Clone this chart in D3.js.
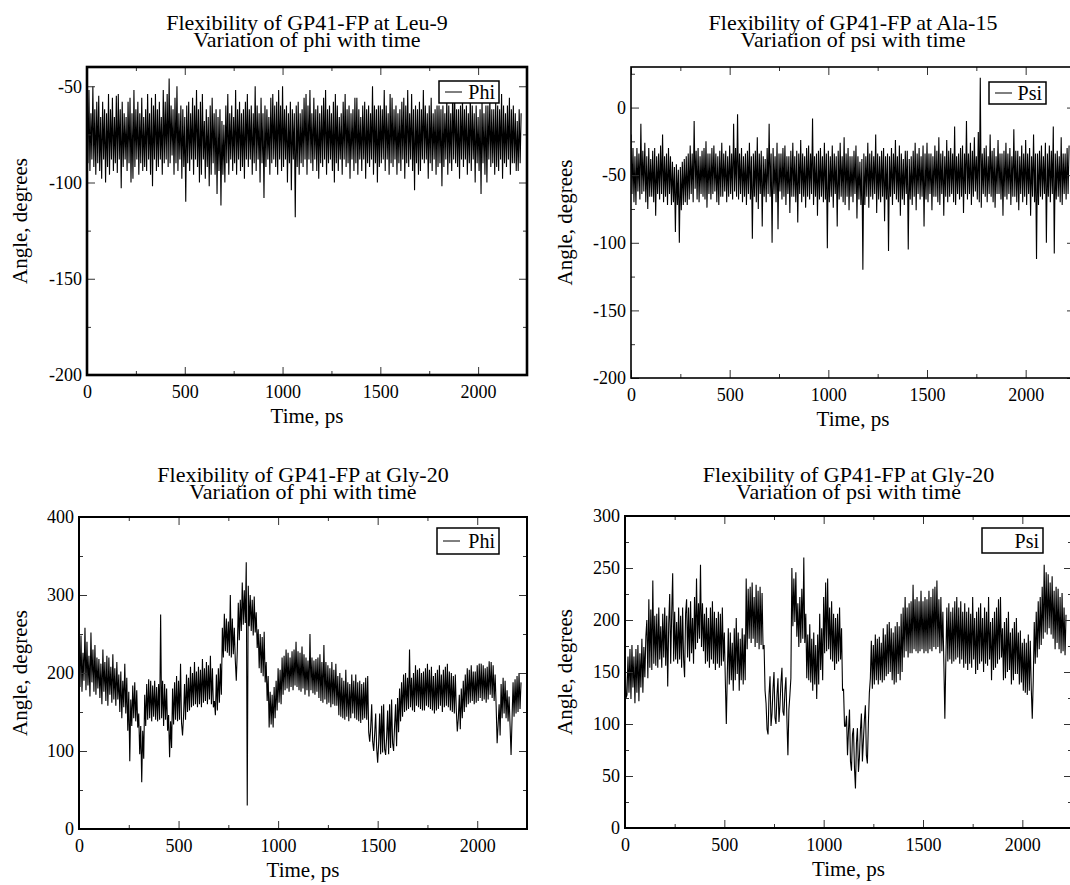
<!DOCTYPE html>
<html>
<head>
<meta charset="utf-8">
<script src="https://cdn.jsdelivr.net/npm/d3@7"></script>
<style>
  body { margin: 0; background: #fff; }
  svg { display: block; }
</style>
</head>
<body>
<svg id="chart" width="1070" height="885"></svg>
<script>
const FONT = '"Liberation Serif", "Times New Roman", Times, serif';

// trajectory frames are stored every 5 ps, starting at 0 ps
const timeStep = 5;
const xTicks = [0, 500, 1000, 1500, 2000];
const xMinorTicks = [250, 750, 1250, 1750];

const leu9Phi = [
  -60,-90,-52,-94,-64,-88,-50,-92,-62,-96,-58,-90,-55,-94,-66,-98,-58,-88,-62,-100,
  -64,-92,-54,-96,-62,-88,-56,-94,-66,-90,-55,-95,-54,-88,-62,-103,-58,-92,-64,-88,
  -66,-94,-58,-90,-56,-100,-64,-98,-52,-92,-62,-88,-58,-96,-64,-90,-56,-94,-66,-92,
  -62,-94,-54,-88,-64,-96,-56,-102,-60,-88,-54,-94,-62,-92,-58,-88,-66,-96,-52,-90,
  -58,-88,-54,-92,-46,-90,-60,-86,-62,-96,-56,-90,-50,-94,-64,-88,-60,-98,-62,-92,
  -66,-110,-60,-90,-58,-94,-64,-88,-56,-96,-60,-88,-52,-92,-62,-100,-58,-96,-54,-88,
  -68,-98,-62,-92,-66,-102,-60,-96,-56,-90,-64,-96,-62,-106,-66,-94,-62,-112,-68,-96,
  -70,-100,-60,-90,-54,-96,-64,-88,-60,-94,-66,-90,-52,-96,-62,-88,-58,-94,-64,-92,
  -62,-98,-58,-88,-54,-92,-62,-88,-60,-96,-64,-90,-50,-94,-60,-88,-64,-100,-56,-90,
  -64,-108,-60,-92,-62,-88,-66,-96,-56,-90,-54,-88,-60,-92,-58,-96,-52,-88,-60,-94,
  -50,-92,-62,-88,-60,-100,-64,-90,-58,-104,-62,-88,-64,-118,-60,-92,-58,-96,-64,-90,
  -62,-92,-56,-88,-54,-96,-60,-88,-52,-90,-64,-94,-56,-88,-62,-94,-60,-98,-64,-90,
  -60,-92,-56,-88,-52,-96,-62,-90,-60,-88,-64,-94,-58,-100,-54,-90,-60,-94,-66,-88,
  -64,-96,-58,-88,-54,-92,-62,-90,-60,-98,-64,-88,-62,-94,-56,-90,-56,-96,-62,-88,
  -66,-94,-60,-88,-58,-98,-62,-90,-60,-92,-64,-88,-50,-96,-60,-90,-62,-100,-60,-92,
  -60,-90,-62,-88,-52,-94,-60,-88,-64,-96,-54,-90,-56,-92,-62,-88,-60,-96,-64,-90,
  -62,-94,-58,-88,-56,-98,-60,-90,-52,-92,-64,-88,-54,-94,-62,-104,-60,-90,-62,-96,
  -58,-94,-62,-88,-52,-90,-60,-88,-64,-98,-60,-90,-56,-94,-64,-88,-62,-96,-60,-92,
  -60,-90,-62,-102,-60,-92,-64,-88,-56,-96,-60,-90,-64,-94,-52,-88,-54,-90,-62,-92,
  -62,-98,-60,-88,-56,-92,-62,-88,-60,-96,-64,-90,-54,-94,-60,-88,-64,-100,-60,-90,
  -66,-94,-62,-106,-58,-90,-64,-96,-60,-100,-60,-88,-56,-92,-62,-90,-62,-96,-58,-92,
  -60,-94,-62,-88,-54,-98,-60,-90,-64,-92,-60,-88,-56,-96,-62,-90,-60,-90,-64,-94,
  -68,-94,-62,-90,-64
];

const ala15Psi = [
  -20,-64,-30,-70,-36,-72,-30,-62,-34,-68,-12,-64,-32,-62,-26,-70,-36,-75,-30,-66,
  -38,-66,-32,-70,-30,-80,-36,-64,-34,-68,-28,-64,-20,-70,-36,-66,-34,-72,-30,-64,
  -36,-72,-40,-70,-44,-92,-42,-72,-46,-100,-44,-76,-40,-72,-38,-70,-36,-72,-34,-68,
  -28,-64,-34,-70,-10,-60,-32,-68,-30,-70,-36,-64,-32,-66,-30,-68,-25,-74,-34,-64,
  -34,-68,-30,-64,-28,-62,-34,-70,-36,-72,-32,-66,-26,-66,-34,-62,-32,-70,-36,-66,
  -28,-64,-34,-68,-12,-62,-30,-66,-5,-68,-34,-64,-30,-70,-36,-66,-34,-72,-32,-64,
  -26,-68,-36,-97,-34,-66,-32,-70,-22,-75,-34,-64,-32,-88,-36,-66,-38,-70,-30,-64,
  -12,-66,-34,-100,-30,-64,-36,-70,-26,-90,-34,-62,-34,-68,-30,-66,-28,-72,-36,-64,
  -36,-78,-32,-66,-26,-66,-36,-70,-32,-85,-34,-64,-24,-70,-34,-66,-36,-74,-30,-66,
  -28,-68,-34,-64,-8,-72,-36,-66,-34,-80,-32,-68,-30,-66,-36,-70,-26,-68,-34,-104,
  -32,-70,-36,-66,-28,-74,-34,-64,-36,-88,-32,-68,-26,-66,-36,-70,-22,-72,-34,-66,
  -30,-76,-36,-66,-36,-70,-32,-64,-28,-82,-36,-68,-40,-72,-38,-120,-34,-72,-36,-66,
  -26,-74,-34,-66,-32,-68,-36,-64,-20,-78,-34,-68,-36,-70,-32,-66,-30,-84,-36,-68,
  -34,-106,-36,-66,-30,-72,-34,-64,-24,-68,-36,-70,-28,-80,-34,-68,-38,-72,-32,-64,
  -32,-105,-38,-68,-36,-72,-32,-66,-26,-76,-34,-64,-30,-68,-36,-66,-28,-88,-34,-68,
  -26,-70,-34,-64,-34,-76,-36,-66,-28,-66,-32,-70,-22,-72,-34,-64,-32,-80,-36,-66,
  -24,-70,-32,-66,-30,-64,-34,-70,-14,-72,-36,-64,-34,-68,-30,-66,-28,-78,-34,-64,
  -10,-68,-34,-64,-26,-72,-32,-66,-22,-62,-36,-68,-18,-70,22,-74,-34,-64,-30,-66,
  -28,-70,-36,-64,-20,-66,-32,-70,-30,-74,-36,-64,-24,-64,-34,-68,-34,-80,-32,-66,
  -26,-68,-34,-64,-30,-72,-36,-66,-16,-66,-32,-70,-32,-76,-36,-64,-28,-70,-34,-66,
  -24,-72,-34,-64,-30,-80,-36,-66,-20,-70,-34,-112,-34,-72,-32,-66,-28,-68,-36,-64,
  -26,-100,-34,-66,-28,-70,-32,-64,-14,-108,-34,-68,-32,-66,-36,-70,-22,-72,-34,-64,
  -34,-68,-30,-64,-28
];

const gly20Phi = [
  232,182,248,176,226,190,258,178,240,184,222,170,252,188,230,176,236,172,220,180,
  218,168,212,160,230,176,214,164,222,158,220,172,208,162,224,166,206,158,214,166,
  198,150,202,142,190,156,212,148,194,126,176,87,166,132,184,142,188,138,178,130,
  148,96,132,60,126,90,172,132,186,140,192,142,190,138,184,144,190,140,182,138,
  186,140,275,142,190,132,186,140,180,126,146,92,138,104,180,134,188,140,196,138,
  190,140,212,136,120,144,186,140,198,150,194,152,208,156,200,158,214,160,202,156,
  208,160,204,156,218,162,206,164,214,160,210,166,222,160,206,156,164,146,198,152,
  206,162,212,172,258,220,276,228,270,226,266,222,300,220,270,224,258,216,190,228,
  290,242,294,254,316,262,306,264,342,30,312,260,300,254,294,248,298,252,278,232,
  256,206,250,200,246,196,253,188,214,164,196,130,176,134,172,130,182,142,190,152,
  206,162,204,160,220,172,222,178,230,180,226,176,220,182,228,178,230,184,240,182,
  228,178,226,176,234,180,224,172,220,178,216,170,250,178,220,174,216,172,218,176,
  220,168,224,164,214,162,236,166,214,160,210,162,206,156,214,160,204,158,212,158,
  196,146,200,144,194,142,190,140,204,144,188,138,186,142,198,148,190,142,198,140,
  188,138,190,136,186,140,188,142,194,140,196,124,112,130,160,112,100,122,148,104,
  85,110,148,96,158,98,160,102,95,118,152,96,160,104,166,110,100,132,160,106,
  168,124,180,138,188,144,198,150,200,152,194,154,230,156,194,152,200,150,210,158,
  204,156,206,154,200,152,202,152,206,158,212,156,204,154,208,152,196,148,200,152,
  204,154,210,158,198,150,204,156,208,158,212,156,202,152,200,150,196,148,198,152,
  125,142,172,128,180,142,190,150,198,156,206,160,204,162,210,164,202,160,202,162,
  210,164,212,168,212,164,210,166,206,162,208,166,215,172,214,168,210,164,198,158,
  110,134,160,120,186,142,194,148,190,142,178,138,170,132,95,142,188,144,192,148,
  196,150,200,154,188
];

const gly20Psi = [
  175,125,128,165,130,172,124,176,135,165,120,172,130,176,122,168,135,182,130,174,
  145,184,200,144,220,154,210,152,238,158,204,156,206,154,212,162,194,154,206,164,
  212,156,204,136,196,225,158,206,245,160,208,162,198,158,212,162,204,154,212,162,
  145,206,220,164,212,160,218,168,202,158,222,172,240,178,216,182,253,174,216,170,
  206,158,212,160,202,154,212,162,218,158,208,152,202,158,208,154,206,156,212,160,
  188,142,100,148,192,138,188,142,178,132,192,142,202,148,188,132,182,142,192,138,
  186,142,240,172,230,182,232,178,236,182,222,174,234,178,228,172,232,176,226,172,
  176,132,120,95,90,128,146,98,110,134,150,106,100,128,144,102,118,140,154,112,
  108,132,145,104,70,114,128,144,250,194,240,198,246,184,216,174,222,178,230,182,
  260,178,206,144,186,142,196,140,182,132,188,138,176,124,186,138,206,152,192,142,
  222,168,236,170,240,172,212,162,218,160,206,152,202,158,206,160,212,162,192,132,
  134,98,98,108,70,94,114,64,55,90,96,58,38,82,96,54,68,94,110,64,
  84,104,118,70,62,100,130,144,180,134,176,138,186,142,182,138,184,142,178,140,
  192,142,186,146,196,148,198,150,192,142,188,138,194,140,198,148,194,142,206,150,
  212,164,222,170,212,164,216,168,218,168,234,172,220,170,222,168,218,170,228,172,
  218,168,222,170,220,168,228,172,222,170,230,174,232,172,238,174,220,168,222,170,
  208,158,105,162,212,160,216,162,208,158,212,160,218,162,222,164,212,158,218,162,
  208,154,216,158,208,152,212,158,206,154,222,162,202,148,208,152,212,158,216,160,
  202,150,212,158,208,156,222,162,198,142,202,152,208,154,212,158,220,162,222,164,
  192,142,198,144,202,150,208,152,188,138,192,142,198,148,202,148,188,138,190,140,
  178,132,182,130,178,128,186,132,180,134,105,142,198,158,208,164,218,172,222,176,
  232,182,253,188,246,186,244,192,236,186,242,182,228,172,232,178,230,172,222,168,
  226,170,212,166,205
];

const titles = [
  'Flexibility of GP41-FP at Leu-9',
  'Flexibility of GP41-FP at Ala-15',
  'Flexibility of GP41-FP at Gly-20',
  'Flexibility of GP41-FP at Gly-20'
];
const subtitles = [
  'Variation of phi with time',
  'Variation of psi with time',
  'Variation of phi with time',
  'Variation of psi with time'
];
const legendNames = ['Phi', 'Psi', 'Phi', 'Psi'];

const panels = [
  { values: leu9Phi, yDomain: [-200, -40], yTicks: [-200, -150, -100, -50], yMinor: [-175, -125, -75],
    left: 87, right: 527, top: 67, bottom: 375, frameW: 2.6, labelX: 21, titleY: 30,
    legend: { x0: 439, x1: 499, y0: 81, y1: 103, line: true } },
  { values: ala15Psi, yDomain: [-200, 30], yTicks: [-200, -150, -100, -50, 0], yMinor: [-175, -125, -75, -25, 25],
    left: 631, right: 1075, top: 67, bottom: 378, frameW: 1.6, labelX: 566, titleY: 30,
    legend: { x0: 989, x1: 1046, y0: 82, y1: 104, line: true } },
  { values: gly20Phi, yDomain: [0, 400], yTicks: [0, 100, 200, 300, 400], yMinor: [50, 150, 250, 350],
    left: 79, right: 527, top: 517, bottom: 829, frameW: 2, labelX: 21, titleY: 482,
    legend: { x0: 437, x1: 499, y0: 528, y1: 554, line: true } },
  { values: gly20Psi, yDomain: [0, 300], yTicks: [0, 50, 100, 150, 200, 250, 300], yMinor: [25, 75, 125, 175, 225, 275],
    left: 625, right: 1072, top: 516, bottom: 828, frameW: 2, labelX: 566, titleY: 482,
    legend: { x0: 982, x1: 1043, y0: 528, y1: 553, line: false } }
];

const svg = d3.select('#chart');
svg.append('rect').attr('width', 1070).attr('height', 885).attr('fill', '#fff');

function styleAxis(sel) {
  sel.select('.domain').remove();
  sel.attr('font-family', FONT).attr('font-size', 18);
  sel.selectAll('.tick line').attr('stroke', '#333').attr('stroke-width', 1);
  sel.selectAll('.tick text').attr('fill', '#000');
}

panels.forEach((p, i) => {
  const x = d3.scaleLinear().domain([0, 2250]).range([p.left, p.right]);
  const y = d3.scaleLinear().domain(p.yDomain).range([p.bottom, p.top]);
  const g = svg.append('g');

  const clipId = 'plot-clip-' + i;
  svg.append('clipPath').attr('id', clipId)
    .append('rect')
    .attr('x', p.left).attr('y', p.top)
    .attr('width', p.right - p.left).attr('height', p.bottom - p.top);

  const line = d3.line()
    .x((d, k) => x(k * timeStep))
    .y(d => y(d));

  g.append('path')
    .datum(p.values)
    .attr('clip-path', `url(#${clipId})`)
    .attr('fill', 'none')
    .attr('stroke', '#000')
    .attr('stroke-width', 1.1)
    .attr('d', line);

  // ticks point inward on all four sides
  g.append('g').attr('transform', `translate(0,${p.bottom})`)
    .call(d3.axisBottom(x).tickValues(xTicks).tickSize(-8).tickPadding(10).tickFormat(d => String(d)))
    .call(styleAxis);
  g.append('g').attr('transform', `translate(0,${p.bottom})`)
    .call(d3.axisBottom(x).tickValues(xMinorTicks).tickSize(-4).tickFormat(''))
    .call(styleAxis);
  g.append('g').attr('transform', `translate(0,${p.top})`)
    .call(d3.axisTop(x).tickValues(xTicks).tickSize(-8).tickFormat(''))
    .call(styleAxis);
  g.append('g').attr('transform', `translate(0,${p.top})`)
    .call(d3.axisTop(x).tickValues(xMinorTicks).tickSize(-4).tickFormat(''))
    .call(styleAxis);

  g.append('g').attr('transform', `translate(${p.left},0)`)
    .call(d3.axisLeft(y).tickValues(p.yTicks).tickSize(-8).tickPadding(5).tickFormat(d => String(d)))
    .call(styleAxis);
  g.append('g').attr('transform', `translate(${p.left},0)`)
    .call(d3.axisLeft(y).tickValues(p.yMinor).tickSize(-4).tickFormat(''))
    .call(styleAxis);
  g.append('g').attr('transform', `translate(${p.right},0)`)
    .call(d3.axisRight(y).tickValues(p.yTicks).tickSize(-8).tickFormat(''))
    .call(styleAxis);
  g.append('g').attr('transform', `translate(${p.right},0)`)
    .call(d3.axisRight(y).tickValues(p.yMinor).tickSize(-4).tickFormat(''))
    .call(styleAxis);

  g.append('rect')
    .attr('x', p.left).attr('y', p.top)
    .attr('width', p.right - p.left).attr('height', p.bottom - p.top)
    .attr('fill', 'none')
    .attr('stroke', '#000')
    .attr('stroke-width', p.frameW);

  const cx = (p.left + p.right) / 2;
  g.append('text')
    .attr('x', cx).attr('y', p.titleY)
    .attr('text-anchor', 'middle')
    .attr('font-family', FONT).attr('font-size', 22)
    .text(titles[i]);
  g.append('text')
    .attr('x', cx).attr('y', p.titleY + 17)
    .attr('text-anchor', 'middle')
    .attr('font-family', FONT).attr('font-size', 22)
    .text(subtitles[i]);

  g.append('text')
    .attr('x', cx).attr('y', p.bottom + 48)
    .attr('text-anchor', 'middle')
    .attr('font-family', FONT).attr('font-size', 21)
    .text('Time, ps');

  g.append('text')
    .attr('transform', `translate(${p.labelX},${(p.top + p.bottom) / 2}) rotate(-90)`)
    .attr('dy', '0.3em')
    .attr('text-anchor', 'middle')
    .attr('font-family', FONT).attr('font-size', 21)
    .text('Angle, degrees');

  const L = p.legend;
  g.append('rect')
    .attr('x', L.x0).attr('y', L.y0)
    .attr('width', L.x1 - L.x0).attr('height', L.y1 - L.y0)
    .attr('fill', '#fff')
    .attr('stroke', '#000')
    .attr('stroke-width', 1.5);
  if (L.line) {
    g.append('line')
      .attr('x1', L.x0 + 6).attr('x2', L.x0 + 23)
      .attr('y1', (L.y0 + L.y1) / 2).attr('y2', (L.y0 + L.y1) / 2)
      .attr('stroke', '#000').attr('stroke-width', 1);
  }
  g.append('text')
    .attr('x', L.x1 - 4).attr('y', (L.y0 + L.y1) / 2 + 7)
    .attr('text-anchor', 'end')
    .attr('font-family', FONT).attr('font-size', 20)
    .text(legendNames[i]);
});
</script>
</body>
</html>
